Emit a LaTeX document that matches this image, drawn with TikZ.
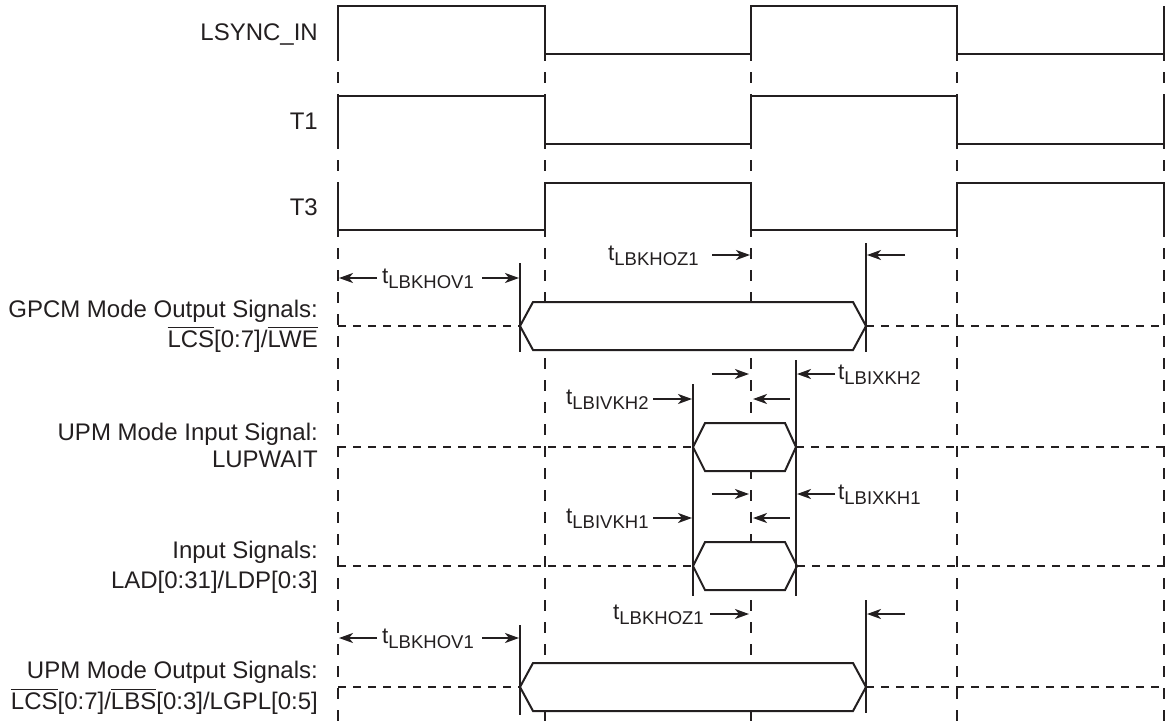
\documentclass[tikz,border=0pt]{standalone}
\usepackage{fontspec}
\setmainfont{Liberation Sans}
\usetikzlibrary{arrows.meta}
\definecolor{ink}{HTML}{231F20}
\newcommand\tlab[1]{t\raisebox{-5pt}{\fontsize{18.5}{20}\selectfont #1}}
\newcommand\ovl[1]{\begingroup\setbox0\hbox{#1}\rlap{\rule[\dimexpr\ht0+2pt\relax]{\wd0}{1.2pt}}\box0\endgroup}
\begin{document}
\begin{tikzpicture}[x=1pt,y=-1pt,
  wave/.style={line width=2.6pt, draw=ink, line join=miter},
  gridline/.style={line width=2.2pt, draw=ink, dash pattern=on 11pt off 11pt},
  midline/.style={line width=1.8pt, draw=ink, dash pattern=on 8pt off 7pt},
  bus/.style={line width=2pt, draw=ink, fill=white, line join=miter},
  tmark/.style={line width=2.2pt, draw=ink},
  arr/.style={line width=2pt, draw=ink, -{Stealth[length=14pt,width=10pt,inset=4pt]}},
  sig/.style={font=\fontsize{24}{26}\selectfont, text=ink, inner sep=0pt, anchor=base east},
  tl/.style={font=\fontsize{22.5}{24}\selectfont, text=ink, inner sep=0pt, anchor=base west}]
\useasboundingbox (0,0) rectangle (1173,726);

% clock grid
\foreach \x in {338,545,751,957,1164} \draw[gridline] (\x,6) -- (\x,726);

% mid (tri-state) lines
\draw[midline] (338,326) -- (520,326);
\draw[midline] (866,326) -- (1164,326);
\draw[midline] (338,447) -- (693,447);
\draw[midline] (796,447) -- (1164,447);
\draw[midline] (338,566) -- (693,566);
\draw[midline] (797,566) -- (1164,566);
\draw[midline] (338,687) -- (520,687);
\draw[midline] (866,687) -- (1164,687);

% waveforms
\draw[wave] (338,54) -- (338,6) -- (545,6) -- (545,54) -- (751,54) -- (751,6) -- (957,6) -- (957,54) -- (1164,54) -- (1164,6);
\draw[wave] (338,144) -- (338,96) -- (545,96) -- (545,144) -- (751,144) -- (751,96) -- (957,96) -- (957,144) -- (1164,144) -- (1164,96);
\draw[wave] (338,183) -- (338,230) -- (545,230) -- (545,183) -- (751,183) -- (751,230) -- (957,230) -- (957,183) -- (1164,183) -- (1164,230);

% buses
\draw[bus] (520,326) -- (533,302) -- (853,302) -- (866,326) -- (853,350) -- (533,350) -- cycle;
\draw[bus] (693,447) -- (705,423) -- (785,423) -- (796,447) -- (785,471) -- (705,471) -- cycle;
\draw[bus] (693,566) -- (705,542) -- (785,542) -- (797,566) -- (785,590) -- (705,590) -- cycle;
\draw[bus] (520,687) -- (533,663) -- (853,663) -- (866,687) -- (853,711) -- (533,711) -- cycle;

% timing marker lines
\draw[tmark] (520,263) -- (520,352);
\draw[tmark] (866,243) -- (866,352);
\draw[tmark] (693,384) -- (693,596);
\draw[tmark] (796,360) -- (796,596);
\draw[tmark] (520,625) -- (520,715);
\draw[tmark] (866,600) -- (866,713);

% signal names
\node[sig] (lsync) at (318,40) {LSYNC\_IN};
\node[sig] (t1) at (318,129) {T1};
\node[sig] (t3) at (318,215) {T3};
\node[sig] (gpcma) at (318,317) {GPCM Mode Output Signals:};
\node[sig] (gpcmb) at (318,347) {\ovl{LCS}[0:7]/\ovl{LWE}};
\node[sig] (upmia) at (318,440) {UPM Mode Input Signal:};
\node[sig] (upmib) at (318,467) {LUPWAIT};
\node[sig] (inpa) at (318,558) {Input Signals:};
\node[sig] (inpb) at (318,588) {LAD[0:31]/LDP[0:3]};
\node[sig] (upmoa) at (318,678) {UPM Mode Output Signals:};
\node[sig] (upmob) at (318,709) {\ovl{LCS}[0:7]/\ovl{LBS}[0:3]/LGPL[0:5]};

% timing labels
\node[tl] (hov1t) at (382,283) {\tlab{LBKHOV1}};
\node[tl] (hoz1t) at (608,260) {\tlab{LBKHOZ1}};
\node[tl] (ixkh2) at (838,379) {\tlab{LBIXKH2}};
\node[tl] (ivkh2) at (566,404) {\tlab{LBIVKH2}};
\node[tl] (ixkh1) at (838,499) {\tlab{LBIXKH1}};
\node[tl] (ivkh1) at (566,523) {\tlab{LBIVKH1}};
\node[tl] (hoz1b) at (613,619) {\tlab{LBKHOZ1}};
\node[tl] (hov1b) at (382,643) {\tlab{LBKHOV1}};

% arrows
\draw[arr] (377,278) -- (339,278);
\draw[arr] (482,278) -- (519,278);
\draw[arr] (712,255) -- (750,255);
\draw[arr] (905,255) -- (867,255);
\draw[arr] (712,374) -- (749,374);
\draw[arr] (835,374) -- (797,374);
\draw[arr] (653,399) -- (692,399);
\draw[arr] (790,399) -- (753,399);
\draw[arr] (712,494) -- (749,494);
\draw[arr] (835,494) -- (797,494);
\draw[arr] (653,518) -- (692,518);
\draw[arr] (790,518) -- (753,518);
\draw[arr] (710,614) -- (749,614);
\draw[arr] (905,614) -- (867,614);
\draw[arr] (377,638) -- (339,638);
\draw[arr] (482,638) -- (519,638);
\end{tikzpicture}
\end{document}
